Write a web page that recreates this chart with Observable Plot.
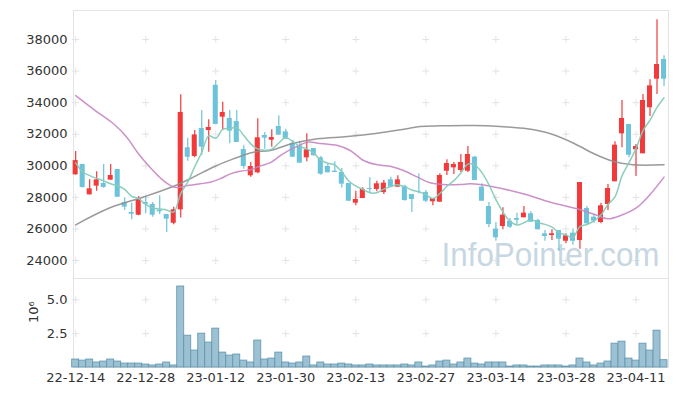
<!DOCTYPE html>
<html><head><meta charset="utf-8">
<script src="https://cdn.jsdelivr.net/npm/d3@7"></script>
<script src="https://cdn.jsdelivr.net/npm/@observablehq/plot@0.6"></script>
<style>
html,body{margin:0;padding:0;background:#fff;}
#chart svg{display:block;}
</style></head><body><div id="chart"></div>
<script>
const dates = ["22-12-14","22-12-15","22-12-16","22-12-19","22-12-20","22-12-21","22-12-22","22-12-23","22-12-26","22-12-27","22-12-28","22-12-29","23-01-02","23-01-03","23-01-04","23-01-05","23-01-06","23-01-09","23-01-10","23-01-11","23-01-12","23-01-13","23-01-16","23-01-17","23-01-18","23-01-19","23-01-20","23-01-25","23-01-26","23-01-27","23-01-30","23-01-31","23-02-01","23-02-02","23-02-03","23-02-06","23-02-07","23-02-08","23-02-09","23-02-10","23-02-13","23-02-14","23-02-15","23-02-16","23-02-17","23-02-20","23-02-21","23-02-22","23-02-23","23-02-24","23-02-27","23-02-28","23-03-02","23-03-03","23-03-06","23-03-07","23-03-08","23-03-09","23-03-10","23-03-13","23-03-14","23-03-15","23-03-16","23-03-17","23-03-20","23-03-21","23-03-22","23-03-23","23-03-24","23-03-27","23-03-28","23-03-29","23-03-30","23-03-31","23-04-03","23-04-04","23-04-05","23-04-06","23-04-07","23-04-10","23-04-11","23-04-12","23-04-13","23-04-14","23-04-17"];

const open  = [29430,30080,28160,28710,28880,29090,29765,27670,27040,26870,27670,27550,27170,26910,26360,27210,31140,30590,32360,32235,35100,33080,33000,32800,31030,29365,29555,31920,31620,32490,32150,31430,31285,30505,31095,30505,29955,29660,29575,28880,27630,27925,28560,28500,28305,29110,28645,28690,28180,28350,28305,27720,27695,29655,29870,29700,29655,30545,28645,27420,25980,26155,26490,26660,26705,26960,26535,25690,25585,25900,25220,25730,25265,27295,26745,26405,27545,28985,32025,32615,31010,30760,33675,35485,36735];
const close = [30330,28624,28540,29110,28630,29385,28010,27380,26930,27880,27550,26870,27085,26617,27210,33380,30540,31960,31180,32425,32620,33375,32190,31475,29955,29955,31775,31750,31790,31940,31685,30545,30165,31010,30630,29465,29555,29575,28835,27755,27865,28500,28500,28860,28900,28645,29110,27800,27865,28310,27755,27925,29385,30145,30080,30210,30715,29070,27755,26280,25440,26870,26110,26550,27000,26425,25945,25520,25690,25350,25565,25220,28940,26325,26490,27465,28560,31305,32995,30670,31220,34135,35065,36415,35485];
const high  = [30900,30100,29110,29620,30080,30080,29765,27970,27630,28050,28050,27670,28100,26910,27380,34500,31750,32235,33500,32910,35400,34030,33500,33500,31265,30210,32975,32110,32280,33165,32320,31600,31555,32025,31095,30590,30125,30250,29830,28880,28390,28605,29240,29025,29070,29280,29365,28770,28180,29490,28435,27925,29490,30380,30210,30715,31220,30600,28860,27675,26405,27340,26660,27000,27420,27085,26615,25900,25945,25900,25690,26000,28940,27420,26915,27630,28815,31520,34135,32615,31350,34515,35445,39250,36965];
const low   = [29400,28600,28150,28390,28580,29080,28010,27170,26580,26830,26960,26740,26910,25775,26260,26700,30290,30505,30650,30860,32600,32235,31390,31475,29785,29275,29500,31050,31180,31940,31685,30545,30165,30250,30630,29405,29555,29575,28600,27755,27465,27925,28225,28350,28180,28645,28645,27755,27040,28225,27675,27465,27695,29385,29450,29575,29575,29070,27755,26070,25220,25945,26025,26280,26705,26425,25945,25220,25265,24590,25055,24970,24715,26280,26360,26325,27165,28985,31140,30505,29320,30760,33120,34515,35025];
// volume in millions of shares
const volume = [0.59,0.51,0.59,0.37,0.44,0.59,0.44,0.29,0.29,0.29,0.22,0.15,0.22,0.37,0.15,5.98,2.35,1.25,2.5,1.84,2.87,1.10,0.88,0.96,0.51,0.37,1.99,0.59,0.66,1.10,0.37,0.29,0.37,0.81,0.15,0.37,0.22,0.22,0.29,0.22,0.15,0.15,0.22,0.15,0.15,0.15,0.15,0.22,0.15,0.37,0.07,0.15,0.44,0.51,0.22,0.37,0.66,0.29,0.22,0.37,0.37,0.37,0.07,0.15,0.15,0.07,0.07,0.15,0.15,0.15,0.07,0.15,0.66,0.37,0.15,0.29,0.44,1.76,1.91,0.66,0.51,1.76,1.25,2.72,0.54];
// 5-day moving average
const ma5 = [30190,29620,29380,29200,29047,28858,28735,28503,28067,27917,27550,27322,27263,27200,27066,28232,28966,29941,30854,31897,31745,32312,32358,32417,31923,31390,31070,30982,31045,31442,31788,31542,31225,31069,30807,30363,30165,30047,29612,29037,28717,28506,28291,28296,28525,28681,28803,28663,28464,28346,28168,27931,28248,28704,29058,29549,30107,30044,29566,28806,27852,27083,26491,26250,26394,26591,26406,26288,26116,25786,25614,25469,26153,26280,26508,26888,27556,28029,29363,30199,31084,32227,32887,33695,34311];
// 20-day moving average, read at positions [day index, value]
const ma20 = [[0,34450],[2.8,33500],[5.4,32660],[7.3,31810],[8.8,30860],[10.6,29910],[12.5,29070],[14.2,28640],[16,28750],[17.8,28860],[19.2,28960],[20.6,29170],[22.1,29490],[23.5,29650],[25.1,29760],[26.4,30000],[27.8,30200],[29.6,30760],[31.4,31180],[33.2,31500],[34.6,31430],[37.4,31280],[39.2,30970],[41.1,30335],[42.9,30080],[44.9,29970],[46.8,29700],[48.8,29280],[50.6,28920],[52.5,28815],[54.9,28815],[56.4,28858],[59.4,28690],[63.9,28225],[67.8,27690],[71.6,27275],[74.5,26850],[76,26640],[77.8,26850],[80.2,27380],[82.1,28225],[84,29280]];
// 60-day moving average
const ma60 = [[0,26260],[4.9,27340],[9.6,28010],[13.9,28690],[16.8,29280],[19.6,29910],[22.5,30440],[25.4,30860],[27.8,30970],[31.1,31430],[34.5,31710],[38.8,31855],[43.1,32064],[46.4,32280],[49.2,32490],[52.1,32533],[56.8,32552],[60.6,32490],[64.5,32343],[67.8,32026],[71.1,31430],[74,30760],[76.8,30270],[79.6,30062],[84,30062]];

const priceTicks = [24000,26000,28000,30000,32000,34000,36000,38000];
const volTicks = [2.5,5];
const xTicks = [0,10,20,30,40,50,60,70,80];

const RED = "#f03a3c", BLUE = "#6cc3da";
const rows = dates.map((d,i)=>({i, date:d, open:open[i], close:close[i], high:high[i], low:low[i], vol:volume[i]}));
const up = rows.filter(r=>r.close>=r.open), down = rows.filter(r=>r.close<r.open);
const W=677, ML=73, MR=9;
const xDomain=[-0.31,84.64];
const font = "'DejaVu Sans', sans-serif";
const gridP = xTicks.flatMap(x=>priceTicks.map(y=>({x,y})));
const gridV = xTicks.flatMap(x=>volTicks.map(y=>({x,y})));

const topPlot = Plot.plot({
  width:W, height:278, marginTop:10, marginBottom:0, marginLeft:ML, marginRight:MR,
  style:{fontFamily:font, fontSize:"13px", color:"#333", background:"#fff"},
  x:{domain:xDomain, axis:null},
  y:{domain:[22860,39837], ticks:priceTicks, tickSize:0, tickPadding:6, tickFormat:d3.format("d"), label:null},
  marks:[
    Plot.frame({stroke:"#e4e4e4"}),
    Plot.dot(gridP,{x:"x",y:"y",symbol:"plus",r:2.4,stroke:"#e3e3e3",strokeWidth:1}),
    Plot.text(["InfoPointer.com"],{frameAnchor:"bottom-right", text:d=>d, dx:-9, dy:-13, lineAnchor:"bottom", fontSize:33, fontFamily:"'Liberation Sans', Arial, sans-serif", fill:"#c7d7e2"}),
    Plot.ruleX(up,{x:"i", y1:"low", y2:"high", stroke:RED, strokeWidth:1.2}),
    Plot.ruleX(down,{x:"i", y1:"low", y2:"high", stroke:BLUE, strokeWidth:1.2}),
    Plot.rect(up,{x1:d=>d.i-0.36, x2:d=>d.i+0.36, y1:"open", y2:"close", fill:RED}),
    Plot.rect(down,{x1:d=>d.i-0.36, x2:d=>d.i+0.36, y1:"open", y2:"close", fill:BLUE}),
    Plot.line(ma60,{x:d=>d[0], y:d=>d[1], stroke:"#8f8f8f", strokeWidth:1.5, strokeOpacity:0.9, curve:"catmull-rom"}),
    Plot.line(ma20,{x:d=>d[0], y:d=>d[1], stroke:"#c685c2", strokeWidth:1.5, strokeOpacity:0.9, curve:"catmull-rom"}),
    Plot.line(rows,{x:"i", y:d=>ma5[d.i], stroke:"#86cbbb", strokeWidth:1.5, strokeOpacity:0.95, curve:"catmull-rom"})
  ]
});

const volPlot = Plot.plot({
  width:W, height:118, marginTop:0, marginBottom:29, marginLeft:ML, marginRight:MR,
  style:{fontFamily:font, fontSize:"13px", color:"#333", background:"#fff"},
  x:{domain:xDomain, ticks:xTicks, tickFormat:i=>dates[i], tickSize:0, tickPadding:5, label:null},
  y:{domain:[0,6.57], ticks:volTicks, tickFormat:d3.format(".1f"), tickSize:0, tickPadding:6, label:null},
  marks:[
    Plot.frame({stroke:"#e4e4e4"}),
    Plot.dot(gridV,{x:"x",y:"y",symbol:"plus",r:2.4,stroke:"#e3e3e3",strokeWidth:1}),
    Plot.rect(rows,{x1:d=>d.i-0.5, x2:d=>d.i+0.5, y1:0, y2:"vol", fill:"#9bc1d2", stroke:"#5f95af", strokeWidth:0.8}),
    Plot.text(["10⁶"],{frameAnchor:"left", text:d=>d, dx:-40, rotate:-90, fontSize:13, fill:"#333"})
  ]
});

const c = document.getElementById("chart");
c.appendChild(topPlot);
c.appendChild(volPlot);
topPlot.querySelectorAll("text").forEach(t=>{
  if (t.textContent === "InfoPointer.com") {
    t.setAttribute("textLength","218");
    t.setAttribute("lengthAdjust","spacingAndGlyphs");
  }
});
</script></body></html>
